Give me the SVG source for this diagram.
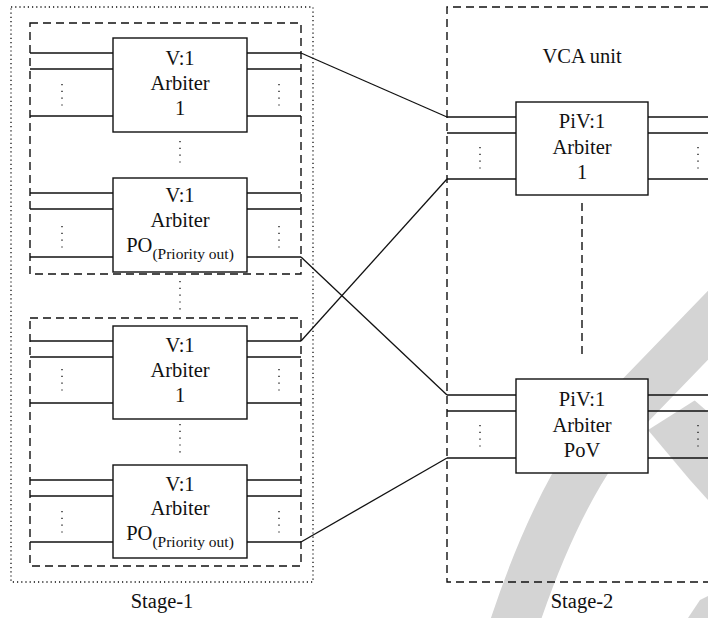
<svg xmlns="http://www.w3.org/2000/svg" width="708" height="618" viewBox="0 0 708 618">
  <style>
    .ln { stroke: #111; stroke-width: 1.3; fill: none; }
    .box { fill: #fff; stroke: #111; stroke-width: 1.4; }
    .dash { stroke: #111; stroke-width: 1.4; fill: none; stroke-dasharray: 8 5; }
    .dot { stroke: #111; stroke-width: 1.3; fill: none; stroke-dasharray: 1.2 3; }
    .vd { stroke: #111; stroke-width: 1.3; fill: none; stroke-dasharray: 1.2 5.6; }
    .wm { fill: #d4d4d4; }
    .wms { fill: none; stroke: #d4d4d4; stroke-width: 48; }
    .t { font-family: 'Liberation Serif', 'Times New Roman', serif; font-size: 20.5px; fill: #111; text-anchor: middle; }
    .sub { font-size: 15.5px; }
  </style>

  <!-- background mark -->
  <g id="mark">
    <path class="wms" d="M742,290 L628,408 Q560,480 509,640"/>
    <path class="wm" d="M648,430 L708,392 L708,500 L690,480 Z"/>
    <path class="wm" d="M708,596 L708,618 L688,618 L700,600 Z"/>
    <path fill="#fff" d="M708,388 L693,399 L708,412 Z"/>
  </g>

  <!-- stage outlines -->
  <g id="stage1">
    <rect class="dot" x="11" y="7" width="302" height="575"/>
    <rect class="dash" x="30" y="23" width="271" height="251"/>
    <rect class="dash" x="30" y="318" width="271" height="248"/>
    <line class="vd" x1="180" y1="281" x2="180" y2="311"/>
    <text class="t" x="162" y="608">Stage-1</text>
  </g>
  <g id="stage2">
    <path class="dash" d="M708,7 L447,7 L447,582 L708,582"/>
    <text class="t" x="582" y="63">VCA unit</text>
    <line class="dash" x1="582" y1="203" x2="582" y2="358"/>
    <text class="t" x="582" y="608">Stage-2</text>
  </g>

  <!-- stage-1, group 1 -->
  <g id="arb-1a">
    <line class="ln" x1="30" y1="53" x2="113" y2="53"/>
    <line class="ln" x1="30" y1="69" x2="113" y2="69"/>
    <line class="ln" x1="30" y1="116" x2="113" y2="116"/>
    <line class="ln" x1="247" y1="53" x2="301" y2="53"/>
    <line class="ln" x1="247" y1="69" x2="301" y2="69"/>
    <line class="ln" x1="247" y1="116" x2="301" y2="116"/>
    <line class="vd" x1="62" y1="84" x2="62" y2="106"/>
    <line class="vd" x1="279" y1="84" x2="279" y2="106"/>
    <rect class="box" x="113" y="38" width="134" height="94"/>
    <text class="t" x="180" y="65">V:1</text>
    <text class="t" x="180" y="90">Arbiter</text>
    <text class="t" x="180" y="115">1</text>
  </g>
  <line class="vd" x1="180" y1="141" x2="180" y2="168"/>
  <g id="arb-1b">
    <line class="ln" x1="30" y1="193" x2="113" y2="193"/>
    <line class="ln" x1="30" y1="209" x2="113" y2="209"/>
    <line class="ln" x1="30" y1="257" x2="113" y2="257"/>
    <line class="ln" x1="247" y1="193" x2="301" y2="193"/>
    <line class="ln" x1="247" y1="209" x2="301" y2="209"/>
    <line class="ln" x1="247" y1="257" x2="301" y2="257"/>
    <line class="vd" x1="62" y1="226" x2="62" y2="248"/>
    <line class="vd" x1="279" y1="226" x2="279" y2="248"/>
    <rect class="box" x="113" y="178" width="134" height="94"/>
    <text class="t" x="180" y="202">V:1</text>
    <text class="t" x="180" y="227">Arbiter</text>
    <text class="t" x="180" y="252">PO<tspan class="sub" dy="7">(Priority out)</tspan></text>
  </g>

  <!-- stage-1, group 2 -->
  <g id="arb-2a">
    <line class="ln" x1="30" y1="341" x2="113" y2="341"/>
    <line class="ln" x1="30" y1="357" x2="113" y2="357"/>
    <line class="ln" x1="30" y1="403" x2="113" y2="403"/>
    <line class="ln" x1="247" y1="341" x2="301" y2="341"/>
    <line class="ln" x1="247" y1="357" x2="301" y2="357"/>
    <line class="ln" x1="247" y1="403" x2="301" y2="403"/>
    <line class="vd" x1="62" y1="369" x2="62" y2="391"/>
    <line class="vd" x1="279" y1="369" x2="279" y2="391"/>
    <rect class="box" x="113" y="326" width="134" height="93"/>
    <text class="t" x="180" y="352">V:1</text>
    <text class="t" x="180" y="377">Arbiter</text>
    <text class="t" x="180" y="402">1</text>
  </g>
  <line class="vd" x1="180" y1="424" x2="180" y2="454"/>
  <g id="arb-2b">
    <line class="ln" x1="30" y1="480" x2="113" y2="480"/>
    <line class="ln" x1="30" y1="496" x2="113" y2="496"/>
    <line class="ln" x1="30" y1="542" x2="113" y2="542"/>
    <line class="ln" x1="247" y1="480" x2="301" y2="480"/>
    <line class="ln" x1="247" y1="496" x2="301" y2="496"/>
    <line class="ln" x1="247" y1="542" x2="301" y2="542"/>
    <line class="vd" x1="62" y1="511" x2="62" y2="533"/>
    <line class="vd" x1="279" y1="511" x2="279" y2="533"/>
    <rect class="box" x="113" y="465" width="134" height="93"/>
    <text class="t" x="180" y="491">V:1</text>
    <text class="t" x="180" y="515">Arbiter</text>
    <text class="t" x="180" y="540">PO<tspan class="sub" dy="7">(Priority out)</tspan></text>
  </g>

  <!-- stage-2 arbiters -->
  <g id="piv-1">
    <line class="ln" x1="447" y1="117" x2="516" y2="117"/>
    <line class="ln" x1="447" y1="133" x2="516" y2="133"/>
    <line class="ln" x1="447" y1="179" x2="516" y2="179"/>
    <line class="ln" x1="648" y1="117" x2="708" y2="117"/>
    <line class="ln" x1="648" y1="133" x2="708" y2="133"/>
    <line class="ln" x1="648" y1="179" x2="708" y2="179"/>
    <line class="vd" x1="480" y1="147" x2="480" y2="169"/>
    <line class="vd" x1="698" y1="147" x2="698" y2="169"/>
    <rect class="box" x="516" y="102" width="132" height="93"/>
    <text class="t" x="582" y="128">PiV:1</text>
    <text class="t" x="582" y="154">Arbiter</text>
    <text class="t" x="582" y="179">1</text>
  </g>
  <g id="piv-pov">
    <line class="ln" x1="447" y1="395" x2="516" y2="395"/>
    <line class="ln" x1="447" y1="411" x2="516" y2="411"/>
    <line class="ln" x1="447" y1="458" x2="516" y2="458"/>
    <line class="ln" x1="648" y1="395" x2="708" y2="395"/>
    <line class="ln" x1="648" y1="411" x2="708" y2="411"/>
    <line class="ln" x1="648" y1="458" x2="708" y2="458"/>
    <line class="vd" x1="480" y1="425" x2="480" y2="447"/>
    <line class="vd" x1="698" y1="425" x2="698" y2="447"/>
    <rect class="box" x="516" y="379" width="132" height="94"/>
    <text class="t" x="582" y="406">PiV:1</text>
    <text class="t" x="582" y="432">Arbiter</text>
    <text class="t" x="582" y="457">PoV</text>
  </g>

  <!-- links between the stages -->
  <g id="links">
    <line class="ln" x1="301" y1="53" x2="447" y2="117"/>
    <line class="ln" x1="301" y1="257" x2="447" y2="395"/>
    <line class="ln" x1="301" y1="341" x2="447" y2="179"/>
    <line class="ln" x1="301" y1="542" x2="447" y2="458"/>
  </g>
</svg>
